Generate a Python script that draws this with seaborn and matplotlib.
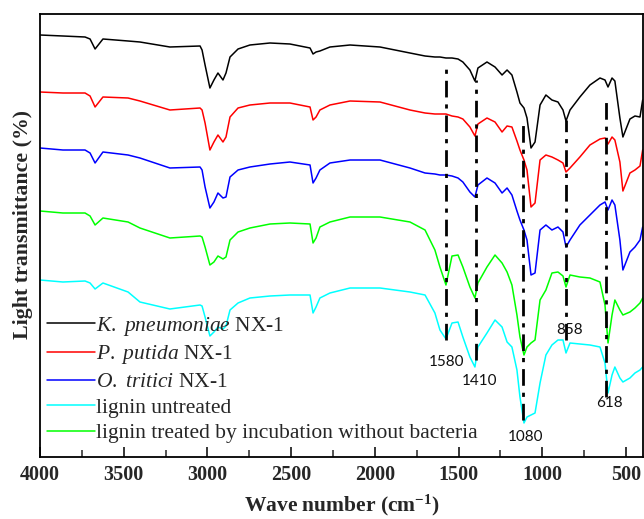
import numpy as np
import pandas as pd
import matplotlib
matplotlib.use("Agg")
import matplotlib.pyplot as plt
import seaborn as sns

# ---------------- data ----------------
wavenumber = [4000, 3863, 3731, 3701, 3671, 3624, 3474, 3403, 3224, 3044,
              3032, 3014, 2985, 2961, 2937, 2907, 2889, 2865, 2817, 2746,
              2626, 2507, 2387, 2369, 2351, 2328, 2268, 2148, 1969, 1790,
              1700, 1641, 1611, 1575, 1539, 1503, 1474, 1432, 1402, 1384,
              1330, 1282, 1240, 1210, 1181, 1151, 1133, 1109, 1091, 1067,
              1043, 1013, 978, 942, 906, 876, 858, 834, 775, 715,
              655, 625, 607, 583, 566, 536, 518, 476, 446, 416,
              400]

k_pneumoniae = [422, 421, 420, 418, 408, 418, 416, 415, 410, 411,
                407, 392, 369, 377, 384, 377, 384, 400, 408, 412,
                414, 413, 409, 403, 405, 406, 410, 412, 410, 404,
                401, 400, 400, 399, 399, 398, 395, 387, 376, 389,
                395, 390, 382, 387, 382, 365, 354, 349, 339, 309,
                315, 352, 362, 357, 355, 347, 336, 347, 360, 372,
                379, 377, 370, 379, 376, 339, 320, 338, 341, 340,
                357]

p_putida = [365, 364, 364, 361, 350, 360, 359, 356, 347, 349,
            347, 334, 307, 315, 322, 315, 320, 340, 349, 352,
            354, 354, 350, 337, 340, 347, 352, 356, 355, 347,
            344, 343, 343, 343, 341, 340, 338, 330, 321, 333,
            339, 335, 325, 331, 330, 316, 307, 297, 287, 250,
            254, 297, 302, 300, 297, 294, 285, 289, 300, 312,
            318, 319, 313, 320, 317, 295, 266, 284, 287, 291,
            307]

o_tritici = [309, 307, 307, 304, 294, 305, 302, 299, 289, 290,
             287, 270, 249, 255, 264, 259, 260, 280, 287, 290,
             293, 295, 292, 274, 279, 287, 294, 297, 297, 289,
             284, 283, 282, 282, 281, 279, 275, 265, 260, 272,
             279, 274, 264, 269, 262, 246, 237, 227, 217, 182,
             184, 227, 232, 227, 230, 225, 210, 217, 232, 242,
             252, 255, 247, 257, 252, 217, 187, 205, 210, 217,
             230]

lignin_untreated = [177, 175, 176, 174, 168, 174, 165, 155, 148, 152,
                    151, 140, 121, 125, 130, 128, 131, 147, 154, 159,
                    161, 162, 162, 144, 150, 159, 164, 169, 169, 165,
                    162, 144, 127, 118, 134, 135, 120, 100, 90, 110,
                    124, 137, 130, 115, 110, 87, 60, 34, 40, 42,
                    44, 74, 102, 112, 117, 117, 104, 114, 113, 112,
                    110, 94, 64, 82, 90, 79, 75, 79, 84, 87,
                    90]

lignin_incubated = [246, 244, 244, 241, 232, 239, 235, 229, 219, 221,
                    220, 210, 192, 195, 201, 198, 200, 217, 225, 229,
                    233, 234, 233, 214, 219, 230, 235, 240, 240, 235,
                    227, 207, 190, 172, 201, 202, 190, 170, 159, 174,
                    190, 202, 194, 185, 172, 142, 120, 102, 110, 114,
                    117, 157, 167, 184, 185, 181, 170, 182, 180, 179,
                    175, 152, 114, 142, 157, 147, 142, 145, 149, 154,
                    159]

series_labels = [r"$\it{K.\ pneumoniae}$ NX-1",
                 r"$\it{P.\ putida}$ NX-1",
                 r"$\it{O.\ tritici}$ NX-1",
                 "lignin untreated",
                 "lignin treated by incubation without bacteria"]
series_values = [k_pneumoniae, p_putida, o_tritici, lignin_untreated, lignin_incubated]
series_colors = ["#000000", "#FF0000", "#0000FF", "#00FFFF", "#00FF00"]

# marker lines (dash-dot) and peak labels
peak_line_wn = [1575, 1396, 1115, 858, 619]
peak_line_top = [392, 377, 334, 337, 360]
peak_line_bottom = [117, 97, 37, 117, 60]
peak_labels = ["1580", "1410", "1080", "858", "618"]
peak_label_wn = [1569, 1372, 1097, 834, 601]
peak_label_y = [95, 76, 20, 127, 54]

x_ticks = [4000, 3500, 3000, 2500, 2000, 1500, 1000, 500]

# ---------------- plotting ----------------
sns.set_theme(style="white")
plt.rcParams["font.family"] = ["Liberation Serif", "DejaVu Serif"]
plt.rcParams["mathtext.fontset"] = "custom"
plt.rcParams["mathtext.rm"] = "Liberation Serif"
plt.rcParams["mathtext.it"] = "Liberation Serif:italic"
plt.rcParams["mathtext.bf"] = "Liberation Serif:bold"

fig = plt.figure(figsize=(6.44, 5.19), dpi=100)
ax = fig.add_axes([40 / 644, 1 - 457 / 519, 603 / 644, 443 / 519])

frames = []
for lab, vals in zip(series_labels, series_values):
    frames.append(pd.DataFrame({"wn": wavenumber, "T": vals, "sample": lab}))
df = pd.concat(frames, ignore_index=True)

for lab, col in zip(series_labels, series_colors):
    sub = df[df["sample"] == lab]
    sns.lineplot(data=sub, x="wn", y="T", color=col, lw=1.1, ax=ax,
                 label=lab, sort=False, legend=False, estimator=None)

for x, y0, y1 in zip(peak_line_wn, peak_line_bottom, peak_line_top):
    ax.plot([x, x], [y0, y1], color="black", lw=2.0,
            linestyle=(0, (6, 2.5, 1.5, 2.5)), zorder=5)

for t, x, y in zip(peak_labels, peak_label_wn, peak_label_y):
    ax.text(x, y, t, ha="center", va="center", fontsize=11,
            family=["Lato", "DejaVu Sans"], color="#111111", zorder=6)

ax.set_xlim(4000, 398)
ax.set_ylim(0, 443)
ax.set_xticks(x_ticks)
ax.set_xticklabels([str(v) for v in x_ticks], fontweight="bold", fontsize=14.5)
ax.set_xticks(np.arange(3750, 399, -500), minor=True)
ax.set_yticks([])
ax.tick_params(axis="x", which="major", direction="in", length=7, width=1.1,
               pad=6, color="black", bottom=True)
ax.tick_params(axis="x", which="minor", direction="in", length=5, width=1.1,
               bottom=True)
for sp in ax.spines.values():
    sp.set_color("black")
    sp.set_linewidth(1.3)
    sp.set_visible(True)

ax.set_xlabel(r"Wave number (cm$^{\mathbf{-1}}$)", fontsize=15.5,
              fontweight="bold", labelpad=5)
ax.set_ylabel("Light transmittance (%)", fontsize=15.75, fontweight="bold")
ax.yaxis.set_label_coords(-0.012, 0.524)

ax.legend(loc="upper left", bbox_to_anchor=(0.0116, 0.321), frameon=False,
          fontsize=15.5, handlelength=2.23, handletextpad=0.05,
          labelspacing=0.26, borderpad=0, borderaxespad=0)

fig.savefig("out.png", dpi=100)
